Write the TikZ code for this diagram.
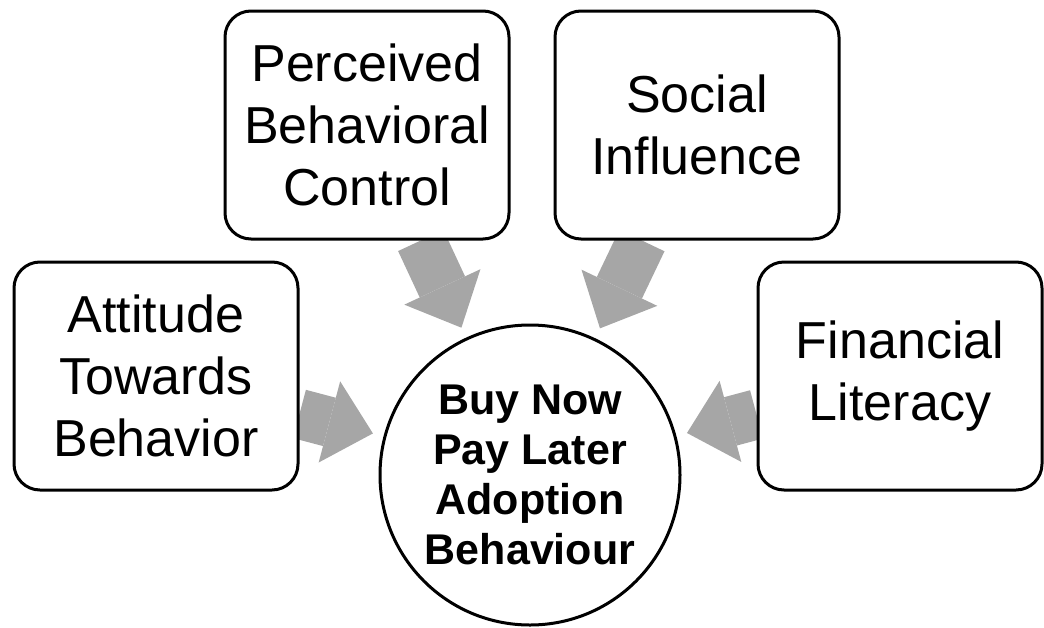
\documentclass[tikz,border=0pt]{standalone}
\usepackage{fontspec}
\setmainfont{Liberation Sans}
\usetikzlibrary{arrows.meta,backgrounds}
\definecolor{arrowgray}{HTML}{A6A6A6}
\tikzset{
	factor/.style={draw=black, line width=3pt, rounded corners=26pt, fill=white, align=center,
		minimum width=284pt, minimum height=228pt, font=\fontsize{52}{62}\selectfont},
	outcome/.style={circle, draw=black, line width=3pt, fill=white, align=center, inner sep=0pt,
		minimum size=300pt, font=\bfseries\fontsize{43}{50}\selectfont},
	bigarrow/.style={draw=arrowgray, line width=50pt, shorten >=11pt,
		-{Triangle[length=45pt,width=84pt,line width=0pt]}}
}

\begin{document}
\begin{tikzpicture}[x=1pt, y=-1pt]
			%%%%% START %%%%%
			\useasboundingbox (0, 0) rectangle (1044, 627);
			
			\node[factor] (att) at (156, 376) {Attitude\\Towards\\Behavior};
			\node[factor] (pbc) at (367, 125) {Perceived\\Behavioral\\Control};
			\node[factor] (soc) at (697, 125) {Social\\Influence};
			\node[factor] (fin) at (900, 376) {Financial\\Literacy};
			
			\node[outcome] (bnpl) at (530, 475) {Buy Now\\Pay Later\\Adoption\\Behaviour};
			
			% arrows go under the boxes
			\begin{scope}[on background layer]
				\draw[bigarrow] (att) -- (bnpl);
				\draw[bigarrow] (pbc) -- (bnpl);
				\draw[bigarrow] (soc) -- (bnpl);
				\draw[bigarrow] (fin) -- (bnpl);
			\end{scope}
			
			%%%%% END %%%%%
\end{tikzpicture}
\end{document}
